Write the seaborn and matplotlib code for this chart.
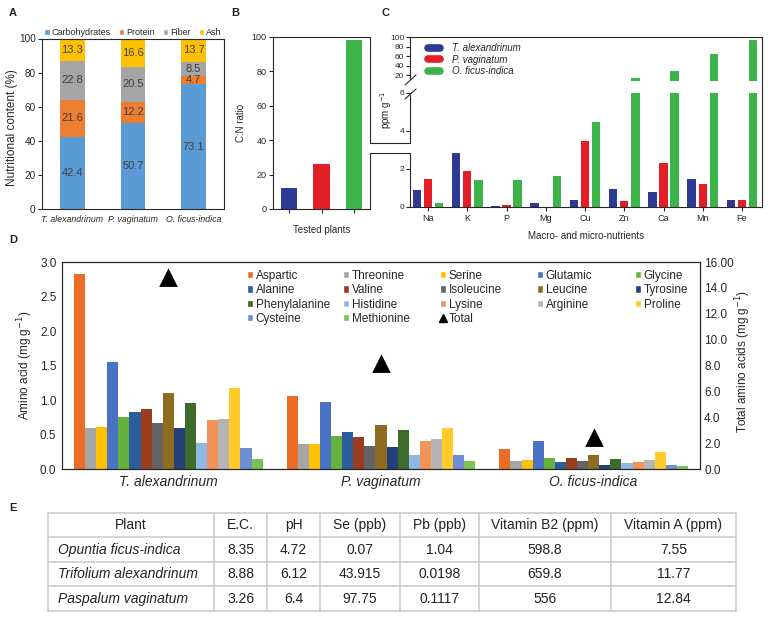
import numpy as np
import pandas as pd
import matplotlib
matplotlib.use("Agg")
import matplotlib.pyplot as plt
import seaborn as sns
from matplotlib.lines import Line2D
from matplotlib.patches import Patch
from matplotlib.legend import Legend

# ------------------------------------------------------------------ data
plants_short = ["T. alexandrinum", "P. vaginatum", "O. ficus-indica"]

# Panel A - nutritional content (%)
nutr_components = ["Carbohydrates", "Protein", "Fiber", "Ash"]
carbohydrates = [42.4, 50.7, 73.1]
protein = [21.6, 12.2, 4.7]
fiber = [22.8, 20.5, 8.5]
ash = [13.3, 16.6, 13.7]

# Panel B - C:N ratio
cn_ratio = [12.2, 26.2, 98.3]

# Panel C - macro- and micro-nutrients (ppm g-1)
nutrients = ["Na", "K", "P", "Mg", "Cu", "Zn", "Ca", "Mn", "Fe"]
ppm_t_alex = [0.89, 2.86, 0.07, 0.20, 0.36, 0.93, 0.77, 1.46, 0.36]
ppm_p_vag = [1.48, 1.87, 0.12, 0.0, 3.45, 0.29, 2.32, 1.21, 0.39]
ppm_o_ficus = [0.23, 1.43, 1.43, 1.64, 4.46, 13.1, 28.4, 64.0, 93.5]
c_yticks = [0, 2, 4, 6, 20, 40, 60, 80, 100]

# Panel D - amino acids (mg g-1)
amino_acids = ["Aspartic", "Threonine", "Serine", "Glutamic", "Glycine",
               "Alanine", "Valine", "Isoleucine", "Leucine", "Tyrosine",
               "Phenylalanine", "Histidine", "Lysine", "Arginine", "Proline",
               "Cysteine", "Methionine"]
aa_t_alex = [2.83, 0.60, 0.61, 1.55, 0.76, 0.82, 0.87, 0.67, 1.10, 0.60,
             0.96, 0.38, 0.71, 0.72, 1.18, 0.30, 0.15]
aa_p_vag = [1.06, 0.36, 0.36, 0.97, 0.48, 0.54, 0.47, 0.34, 0.64, 0.32,
            0.56, 0.20, 0.40, 0.44, 0.60, 0.21, 0.11]
aa_o_ficus = [0.29, 0.11, 0.13, 0.40, 0.16, 0.10, 0.16, 0.12, 0.21, 0.06,
              0.14, 0.08, 0.10, 0.13, 0.25, 0.06, 0.04]
total_amino = [14.8, 8.1, 2.42]
d_left_ticks = [0.0, 0.5, 1.0, 1.5, 2.0, 2.5, 3.0]
d_right_ticks = [0, 2, 4, 6, 8, 10, 12, 14, 16]
d_right_labels = ["0.0", "2.0", "4.0", "6.0", "8.0", "10.0", "12.0", "14.0", "16.00"]

# Panel E - table
table_header = ["Plant", "E.C.", "pH", "Se (ppb)", "Pb (ppb)",
                "Vitamin B2 (ppm)", "Vitamin A (ppm)"]
table_plants = ["Opuntia ficus-indica", "Trifolium alexandrinum", "Paspalum vaginatum"]
table_ec = ["8.35", "8.88", "3.26"]
table_ph = ["4.72", "6.12", "6.4"]
table_se = ["0.07", "43.915", "97.75"]
table_pb = ["1.04", "0.0198", "0.1117"]
table_b2 = ["598.8", "659.8", "556"]
table_va = ["7.55", "11.77", "12.84"]

# ------------------------------------------------------------------ style
sns.set_theme(style="ticks")
plt.rcParams["font.family"] = ["Liberation Sans", "DejaVu Sans"]
plt.rcParams["axes.linewidth"] = 0.8
plt.rcParams["axes.edgecolor"] = "#262626"

W, H = 771, 621
fig = plt.figure(figsize=(W / 100, H / 100), dpi=100)
fig.patch.set_facecolor("white")


def rect(l, t, r, b):
    return [l / W, 1 - b / H, (r - l) / W, (b - t) / H]


def fline(xs, ys, **kw):
    fig.add_artist(Line2D([x / W for x in xs], [1 - y / H for y in ys],
                          transform=fig.transFigure, color="#262626", lw=0.8, **kw))


plant_cols = ["#2E3A94", "#E41E26", "#3DB44A"]
TXT = "#262626"

# ------------------------------------------------------------------ Panel A
axA = fig.add_axes(rect(42, 38.5, 224, 209))
colorsA = ["#5B9BD5", "#ED7D31", "#A5A5A5", "#FFC000"]
dfA = pd.DataFrame({"plant": plants_short, "Carbohydrates": carbohydrates,
                    "Protein": protein, "Fiber": fiber, "Ash": ash})
cumA = dfA[nutr_components].cumsum(axis=1)
cumA["plant"] = dfA["plant"]
for comp, col in reversed(list(zip(nutr_components, colorsA))):
    sns.barplot(data=cumA, x="plant", y=comp, color=col, width=0.41,
                saturation=1, errorbar=None, linewidth=0, ax=axA)
for i in range(len(plants_short)):
    bottom = 0
    for comp in nutr_components:
        v = dfA[comp].iloc[i]
        axA.text(i, bottom + v / 2, f"{v:.1f}", ha="center", va="center",
                 fontsize=8, color="#404040")
        bottom += v
axA.set_ylim(0, 100)
axA.set_xlim(-0.5, 2.5)
axA.set_yticks(range(0, 101, 20))
axA.set_xlabel("")
axA.set_ylabel("Nutritional content (%)", fontsize=8.5, color=TXT)
axA.yaxis.set_label_coords(-0.13, 0.48)
axA.tick_params(axis="y", labelsize=7.2, length=3, width=0.8, pad=1.5)
axA.tick_params(axis="x", length=0, pad=4)
for lab in axA.get_xticklabels():
    lab.set_fontstyle("italic")
    lab.set_fontsize(6.3)
handlesA = [Patch(facecolor=c, label=l) for c, l in zip(colorsA, nutr_components)]
axA.legend(handles=handlesA, loc="lower center", bbox_to_anchor=(0.5, 1.0), ncol=4,
           frameon=False, fontsize=6.5, handlelength=0.6, handleheight=0.6,
           handletextpad=0.2, columnspacing=0.9, borderaxespad=0.15, borderpad=0)

# ------------------------------------------------------------------ Panel B
axB = fig.add_axes(rect(273, 37, 370, 209))
dfB = pd.DataFrame({"plant": plants_short, "cn": cn_ratio})
sns.barplot(data=dfB, x="plant", y="cn", hue="plant", palette=plant_cols, width=0.5,
            saturation=1, errorbar=None, legend=False, linewidth=0, ax=axB)
axB.set_ylim(0, 100)
axB.set_xlim(-0.5, 2.5)
axB.set_yticks(range(0, 101, 20))
axB.set_xticklabels([])
axB.spines["right"].set_visible(False)
axB.tick_params(axis="y", labelsize=6.5, length=3, width=0.8, pad=1.5)
axB.tick_params(axis="x", length=3, width=0.8)
axB.set_xlabel("Tested plants", fontsize=7, color=TXT, labelpad=5)
axB.set_ylabel("C:N ratio", fontsize=7, color=TXT, labelpad=4)

# ------------------------------------------------------------------ Panel C
def c_fwd(v):
    v = np.asarray(v, dtype=float)
    return np.where(v <= 6, v * 19.0,
                    np.where(v <= 7.4, 114.0 + (v - 6) * (12 / 1.4),
                             126.0 + (v - 7.4) * 0.475))


def c_inv(p):
    p = np.asarray(p, dtype=float)
    return np.where(p <= 114, p / 19.0,
                    np.where(p <= 126, 6 + (p - 114) * (1.4 / 12),
                             7.4 + (p - 126) / 0.475))


axC = fig.add_axes(rect(410, 37, 762, 207))
dfC = pd.DataFrame({"nutrient": nutrients * 3,
                    "plant": np.repeat(plants_short, len(nutrients)),
                    "ppm": ppm_t_alex + ppm_p_vag + ppm_o_ficus})
sns.barplot(data=dfC, x="nutrient", y="ppm", hue="plant", palette=plant_cols,
            width=0.85, gap=0.25, saturation=1, errorbar=None, linewidth=0,
            legend=False, ax=axC)
axC.set_yscale("function", functions=(c_fwd, c_inv))
axC.set_ylim(0, 100)
axC.set_xlim(-0.46, 8.51)
axC.axhspan(6, 7.4, color="white", lw=0, zorder=2)
axC.set_yticks(c_yticks)
axC.set_yticklabels([str(t) for t in c_yticks])
axC.yaxis.set_minor_locator(matplotlib.ticker.NullLocator())
axC.spines["left"].set_visible(False)
axC.tick_params(axis="y", labelsize=6, length=3, width=0.8, pad=1)
axC.tick_params(axis="x", labelsize=6.5, length=3, width=0.8, pad=2)
axC.set_xlabel("Macro- and micro-nutrients", fontsize=7, color=TXT, labelpad=6)
axC.set_ylabel("ppm g$^{-1}$", fontsize=7, color=TXT)
axC.yaxis.set_label_coords(-0.045, 0.57)
handlesC = [Line2D([], [], color=c, lw=5.5, solid_capstyle="round", label=l)
            for c, l in zip(plant_cols, plants_short)]
axC.legend(handles=handlesC, loc="upper left", bbox_to_anchor=(0.05, 0.965),
           frameon=False, prop={"style": "italic", "size": 7}, handlelength=1.3,
           handletextpad=1.2, labelspacing=0.18, borderpad=0, borderaxespad=0)

# manual spines / break marks connecting B and C
fline([410, 410], [37, 79])
fline([410, 410], [95, 143])
fline([410, 410], [153, 207])
fline([405, 416], [85, 75])
fline([405, 416], [99, 89])
fline([370, 370], [37, 143])
fline([370, 370], [153, 209])
fline([370, 410], [143, 143])
fline([370, 410], [153, 153])

# ------------------------------------------------------------------ Panel D
aa_colors = ["#EC6B26", "#A5A5A5", "#FFC000", "#4A72C4", "#65B23F",
             "#2B5C9C", "#9C3C1F", "#636363", "#8E6B1E", "#253F7A",
             "#3E6A2A", "#8DB8E4", "#F39358", "#B5B5B5", "#FFCA2A",
             "#6E8FD2", "#7DC354"]
axD = fig.add_axes(rect(62, 262, 700, 469))
dfD = pd.DataFrame({"plant": np.repeat(plants_short, len(amino_acids)),
                    "acid": amino_acids * 3,
                    "value": aa_t_alex + aa_p_vag + aa_o_ficus})
sns.barplot(data=dfD, x="plant", y="value", hue="acid", palette=aa_colors,
            width=0.887, saturation=1, errorbar=None, linewidth=0, legend=False, ax=axD)
axD.set_ylim(0, 3)
axD.set_xlim(-0.5, 2.5)
axD.set_yticks(d_left_ticks)
axD.set_yticklabels([f"{t:.1f}" for t in d_left_ticks])
axD.set_xlabel("")
axD.set_ylabel("Amino acid (mg g$^{-1}$)", fontsize=8.5, color=TXT)
axD.yaxis.set_label_coords(-0.042, 0.5)
axD.tick_params(axis="y", labelsize=8.5, length=0, pad=4)
axD.tick_params(axis="x", labelsize=10, length=0, pad=4)
for lab in axD.get_xticklabels():
    lab.set_fontstyle("italic")

axD2 = axD.twinx()
dfT = pd.DataFrame({"plant": plants_short, "total": total_amino})
sns.pointplot(data=dfT, x="plant", y="total", color="black", marker="^",
              markersize=10.6, linestyle="none", errorbar=None, ax=axD2)
axD2.set_ylim(0, 16)
axD2.set_xlim(-0.5, 2.5)
axD2.set_yticks(d_right_ticks)
axD2.set_yticklabels(d_right_labels)
axD2.set_xlabel("")
axD2.set_ylabel("Total amino acids (mg g$^{-1}$)", fontsize=8.5, color=TXT)
axD2.yaxis.set_label_coords(1.052, 0.52)
axD2.tick_params(axis="y", labelsize=8.5, length=0, pad=3)

entry_handles = [Patch(facecolor=c, label=a) for c, a in zip(aa_colors, amino_acids)]
entry_handles.append(Line2D([], [], marker="^", color="black", linestyle="none",
                            markersize=6, label="Total"))
col_x = [247, 343, 440, 537, 635]
for c in range(5):
    hs = entry_handles[c::5]
    leg = Legend(axD2, hs, [h.get_label() for h in hs], loc="upper left",
                 bbox_to_anchor=((col_x[c] - 62) / 638, 0.962),
                 frameon=False, fontsize=8.5, handlelength=0.55, handleheight=0.55,
                 handletextpad=0.2, labelspacing=0.2, borderpad=0, borderaxespad=0)
    axD2.add_artist(leg)

# ------------------------------------------------------------------ Panel E (table)
axE = fig.add_axes(rect(48, 513, 736, 611))
axE.set_xlim(48, 736)
axE.set_ylim(611, 513)
axE.axis("off")
col_edges = [48, 214, 267, 320, 400, 479, 611, 736]
row_edges = [513, 537.5, 562, 586.5, 611]
grid_col = "#C8C8C8"
for x in col_edges:
    axE.plot([x, x], [row_edges[0], row_edges[-1]], color=grid_col, lw=1.1, clip_on=False)
for y in row_edges:
    axE.plot([col_edges[0], col_edges[-1]], [y, y], color=grid_col, lw=1.1, clip_on=False)
rows = [table_header] + [list(r) for r in zip(table_plants, table_ec, table_ph, table_se,
                                              table_pb, table_b2, table_va)]
for ri, row in enumerate(rows):
    yc = (row_edges[ri] + row_edges[ri + 1]) / 2
    for ci, val in enumerate(row):
        if ri > 0 and ci == 0:
            axE.text(col_edges[0] + 10, yc, val, ha="left", va="center",
                     fontsize=10, style="italic", color="#222222")
        else:
            xc = (col_edges[ci] + col_edges[ci + 1]) / 2
            axE.text(xc, yc, val, ha="center", va="center", fontsize=10, color="#222222")

# ------------------------------------------------------------------ panel letters
for letter, (px, py) in {"A": (13, 13), "B": (235, 13), "C": (385, 13),
                         "D": (13, 240), "E": (13, 508)}.items():
    fig.text(px / W, 1 - py / H, letter, fontsize=8, fontweight="bold",
             ha="center", va="center", color="#222222")

fig.savefig("out.png", dpi=100, facecolor="white")
